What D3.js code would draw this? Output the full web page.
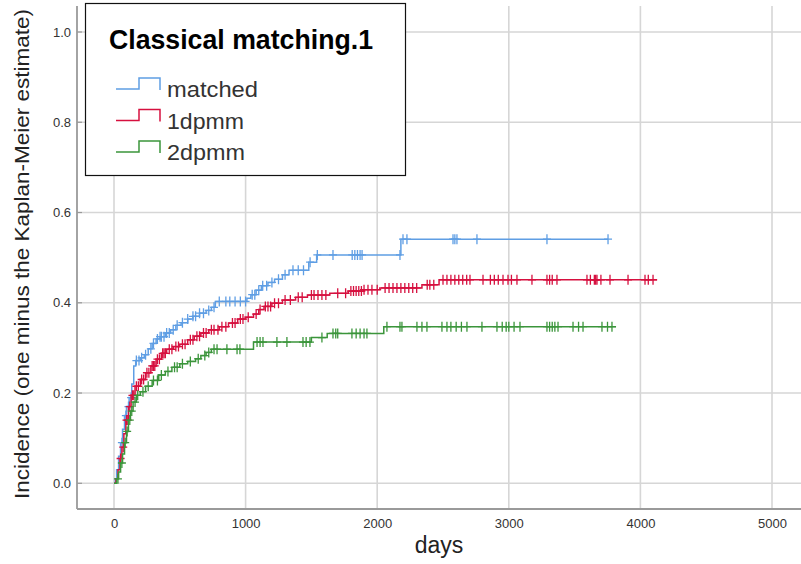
<!DOCTYPE html>
<html>
<head>
<meta charset="utf-8">
<script src="https://cdn.jsdelivr.net/npm/d3@7"></script>
<style>
  body { margin: 0; background: #fff; }
  svg { display: block; }
</style>
</head>
<body>
<div id="chart"></div>
<script>
const FRAME_WIDTH = 801;
const FRAME_HEIGHT = 564;

// legend / titles
const TITLE = "Classical matching.1";
const SERIES_NAMES = ["matched", "1dpmm", "2dpmm"];
const X_TICKS = [0, 1000, 2000, 3000, 4000, 5000];
const Y_TICKS = [0.0, 0.2, 0.4, 0.6, 0.8, 1.0];

// step curves: day where a step happens, incidence after it
const matchedDays = [0, 10, 20, 35, 50, 65, 80, 95, 115, 135, 150, 165, 200, 230, 260, 290, 320, 350, 390, 430, 470, 510, 560, 600, 650, 700, 740, 770, 1010, 1040, 1080, 1120, 1170, 1220, 1280, 1330, 1480, 1540, 2180];
const matchedInc  = [0, 0.01, 0.03, 0.06, 0.09, 0.12, 0.15, 0.17, 0.19, 0.22, 0.26, 0.272, 0.278, 0.285, 0.298, 0.31, 0.32, 0.325, 0.333, 0.34, 0.35, 0.356, 0.364, 0.37, 0.377, 0.383, 0.39, 0.403, 0.41, 0.418, 0.428, 0.438, 0.445, 0.452, 0.462, 0.472, 0.49, 0.506, 0.541];
const matchedEnd = 3754;
const matchedCensor = [60, 90, 110, 130, 170, 190, 210, 240, 280, 300, 330, 350, 360, 380, 400, 420, 450, 480, 520, 560, 600, 620, 650, 680, 720, 760, 800, 850, 880, 920, 960, 1000, 1050, 1070, 1100, 1130, 1160, 1200, 1250, 1300, 1360, 1400, 1440, 1490, 1545, 1664, 1810, 1830, 1850, 1870, 1885, 2173, 2196, 2226, 2576, 2590, 2606, 2758, 3290, 3754];

const d1Days = [0, 15, 30, 45, 60, 75, 90, 110, 130, 160, 200, 240, 280, 320, 360, 400, 450, 500, 560, 610, 660, 720, 800, 870, 940, 1000, 1060, 1100, 1140, 1200, 1280, 1380, 1470, 1640, 1780, 1900, 2020, 2340, 2470];
const d1Inc  = [0, 0.01, 0.03, 0.055, 0.08, 0.11, 0.14, 0.17, 0.195, 0.215, 0.23, 0.245, 0.26, 0.275, 0.288, 0.297, 0.303, 0.308, 0.318, 0.326, 0.333, 0.34, 0.347, 0.355, 0.364, 0.368, 0.375, 0.385, 0.392, 0.399, 0.406, 0.412, 0.417, 0.421, 0.426, 0.429, 0.433, 0.44, 0.451];
const d1End = 4127;
const d1Censor = [50, 70, 95, 105, 120, 140, 150, 170, 185, 210, 225, 250, 265, 290, 300, 310, 330, 345, 370, 380, 390, 420, 440, 470, 490, 520, 540, 580, 600, 630, 650, 680, 700, 740, 760, 790, 820, 850, 900, 920, 960, 980, 1020, 1080, 1110, 1150, 1170, 1190, 1220, 1250, 1300, 1340, 1400, 1430, 1500, 1520, 1550, 1580, 1610, 1700, 1760, 1800, 1820, 1840, 1860, 1880, 1900, 1930, 1960, 2000, 2060, 2090, 2120, 2150, 2180, 2210, 2240, 2270, 2300, 2380, 2400, 2430, 2500, 2530, 2560, 2590, 2620, 2650, 2680, 2705, 2804, 2860, 2890, 2920, 2956, 2994, 3020, 3062, 3176, 3290, 3310, 3330, 3366, 3594, 3620, 3650, 3660, 3670, 3700, 3769, 3906, 4035, 4060, 4096];

const d2Days = [0, 20, 35, 50, 65, 80, 95, 110, 125, 145, 170, 200, 240, 290, 340, 390, 440, 500, 560, 620, 660, 700, 740, 1060, 1500, 1620, 2050];
const d2Inc  = [0, 0.01, 0.025, 0.045, 0.065, 0.09, 0.115, 0.14, 0.16, 0.18, 0.195, 0.203, 0.215, 0.228, 0.24, 0.248, 0.257, 0.265, 0.27, 0.276, 0.283, 0.29, 0.297, 0.313, 0.323, 0.332, 0.347];
const d2End = 3815;
const d2Censor = [30, 60, 85, 100, 120, 135, 160, 180, 220, 260, 300, 330, 360, 410, 460, 480, 520, 580, 640, 690, 720, 760, 783, 858, 935, 957, 1087, 1110, 1132, 1238, 1314, 1436, 1460, 1489, 1580, 1664, 1685, 1700, 1808, 1840, 1870, 1900, 1922, 2074, 2173, 2188, 2302, 2340, 2378, 2492, 2530, 2560, 2600, 2640, 2682, 2796, 2910, 2950, 2980, 3000, 3040, 3085, 3290, 3310, 3330, 3350, 3374, 3488, 3530, 3564, 3708, 3750, 3784];

const COLORS = ["#5f9ee4", "#d6103f", "#3b953b"];

const SERIES = [
  {name: SERIES_NAMES[0], days: matchedDays, inc: matchedInc, end: matchedEnd, censor: matchedCensor, color: COLORS[0]},
  {name: SERIES_NAMES[1], days: d1Days, inc: d1Inc, end: d1End, censor: d1Censor, color: COLORS[1]},
  {name: SERIES_NAMES[2], days: d2Days, inc: d2Inc, end: d2End, censor: d2Censor, color: COLORS[2]}
];

// plot geometry
const AXIS_LEFT = 77;
const AXIS_BOTTOM = 509;
const PLOT_TOP = 6;

const X_SCALE = d3.scaleLinear().domain([0, 5000]).range([114, 772]);
const Y_SCALE = d3.scaleLinear().domain([0, 1]).range([483.3, 32]);

const FRAME = d3.select("#chart")
  .append("svg")
    .attr("width", FRAME_WIDTH)
    .attr("height", FRAME_HEIGHT);

// gridlines
FRAME.append("g")
  .selectAll("line")
  .data(X_TICKS)
  .enter()
  .append("line")
    .attr("x1", d => X_SCALE(d))
    .attr("x2", d => X_SCALE(d))
    .attr("y1", PLOT_TOP)
    .attr("y2", AXIS_BOTTOM)
    .attr("stroke", "#d6d6d6")
    .attr("stroke-width", 1.6);

FRAME.append("g")
  .selectAll("line")
  .data(Y_TICKS)
  .enter()
  .append("line")
    .attr("x1", AXIS_LEFT)
    .attr("x2", FRAME_WIDTH)
    .attr("y1", d => Y_SCALE(d))
    .attr("y2", d => Y_SCALE(d))
    .attr("stroke", "#d6d6d6")
    .attr("stroke-width", 1.6);

// x axis
const xAxis = FRAME.append("g")
  .attr("transform", "translate(0," + AXIS_BOTTOM + ")")
  .call(d3.axisBottom(X_SCALE).tickValues(X_TICKS).tickSize(0).tickPadding(10).tickFormat(d3.format("d")));
xAxis.select(".domain").remove();
xAxis.selectAll("text")
  .attr("font-family", "'Liberation Sans', Arial, sans-serif")
  .attr("font-size", "13px")
  .attr("fill", "#333");

// y axis
const yAxis = FRAME.append("g")
  .attr("transform", "translate(" + AXIS_LEFT + ",0)")
  .call(d3.axisLeft(Y_SCALE).tickValues(Y_TICKS).tickSize(0).tickPadding(6).tickFormat(d3.format(".1f")));
yAxis.select(".domain").remove();
yAxis.selectAll("text")
  .attr("font-family", "'Liberation Sans', Arial, sans-serif")
  .attr("font-size", "13px")
  .attr("fill", "#333");

// small inner ticks on y axis
FRAME.append("g")
  .selectAll("line")
  .data(Y_TICKS)
  .enter()
  .append("line")
    .attr("x1", AXIS_LEFT)
    .attr("x2", AXIS_LEFT + 5)
    .attr("y1", d => Y_SCALE(d))
    .attr("y2", d => Y_SCALE(d))
    .attr("stroke", "#999")
    .attr("stroke-width", 1.2);

// axis lines
FRAME.append("line")
  .attr("x1", AXIS_LEFT).attr("x2", FRAME_WIDTH)
  .attr("y1", AXIS_BOTTOM).attr("y2", AXIS_BOTTOM)
  .attr("stroke", "#9a9a9a").attr("stroke-width", 1.8);
FRAME.append("line")
  .attr("x1", AXIS_LEFT).attr("x2", AXIS_LEFT)
  .attr("y1", PLOT_TOP).attr("y2", AXIS_BOTTOM)
  .attr("stroke", "#9a9a9a").attr("stroke-width", 1.8);

// axis titles
FRAME.append("text")
  .attr("x", 439)
  .attr("y", 553)
  .attr("text-anchor", "middle")
  .attr("font-family", "'Liberation Sans', Arial, sans-serif")
  .attr("font-size", "23px")
  .attr("fill", "#222")
  .text("days");

FRAME.append("text")
  .attr("transform", "translate(29,254) rotate(-90)")
  .attr("text-anchor", "middle")
  .attr("font-family", "'Liberation Sans', Arial, sans-serif")
  .attr("font-size", "21px")
  .attr("fill", "#222")
  .attr("textLength", 490)
  .attr("lengthAdjust", "spacingAndGlyphs")
  .text("Incidence (one minus the Kaplan-Meier estimate)");

// value of a step curve at a given day
function stepValue(s, t) {
  let i = d3.bisectRight(s.days, t) - 1;
  return s.inc[Math.max(i, 0)];
}

const stepLine = d3.line()
  .x(d => X_SCALE(d[0]))
  .y(d => Y_SCALE(d[1]))
  .curve(d3.curveStepAfter);

// draw curves, then censor marks
SERIES.forEach(s => {
  let pts = s.days.map((d, i) => [d, s.inc[i]]);
  pts.push([s.end, s.inc[s.inc.length - 1]]);

  FRAME.append("path")
    .datum(pts)
    .attr("d", stepLine)
    .attr("fill", "none")
    .attr("stroke", s.color)
    .attr("stroke-width", 1.5);

  FRAME.append("g")
    .selectAll("path")
    .data(s.censor)
    .enter()
    .append("path")
      .attr("d", d => {
        let cx = X_SCALE(d), cy = Y_SCALE(stepValue(s, d));
        return "M" + (cx - 4) + "," + cy + "H" + (cx + 4) + "M" + cx + "," + (cy - 5) + "V" + (cy + 5);
      })
      .attr("fill", "none")
      .attr("stroke", s.color)
      .attr("stroke-width", 1.3);
});

// legend box
const LEGEND = FRAME.append("g");
LEGEND.append("rect")
  .attr("x", 85.5)
  .attr("y", 3.5)
  .attr("width", 320)
  .attr("height", 172)
  .attr("fill", "#fff")
  .attr("stroke", "#111")
  .attr("stroke-width", 1.2);

LEGEND.append("text")
  .attr("x", 109)
  .attr("y", 49)
  .attr("font-family", "'Liberation Sans', Arial, sans-serif")
  .attr("font-weight", "bold")
  .attr("font-size", "27px")
  .attr("fill", "#000")
  .attr("textLength", 264)
  .attr("lengthAdjust", "spacingAndGlyphs")
  .text(TITLE);

const LEGEND_Y = [89, 120.5, 152];
const LABEL_LEN = [91, 77, 78];
SERIES.forEach((s, i) => {
  let ly = LEGEND_Y[i];
  LEGEND.append("path")
    .attr("d", "M116," + ly + "H139V" + (ly - 11) + "H160V" + (ly + 1))
    .attr("fill", "none")
    .attr("stroke", s.color)
    .attr("stroke-width", 1.5);
  LEGEND.append("text")
    .attr("x", 167)
    .attr("y", ly + 8)
    .attr("font-family", "'Liberation Sans', Arial, sans-serif")
    .attr("font-size", "22px")
    .attr("fill", "#333")
    .attr("textLength", LABEL_LEN[i])
    .attr("lengthAdjust", "spacingAndGlyphs")
    .text(s.name);
});
</script>
</body>
</html>
